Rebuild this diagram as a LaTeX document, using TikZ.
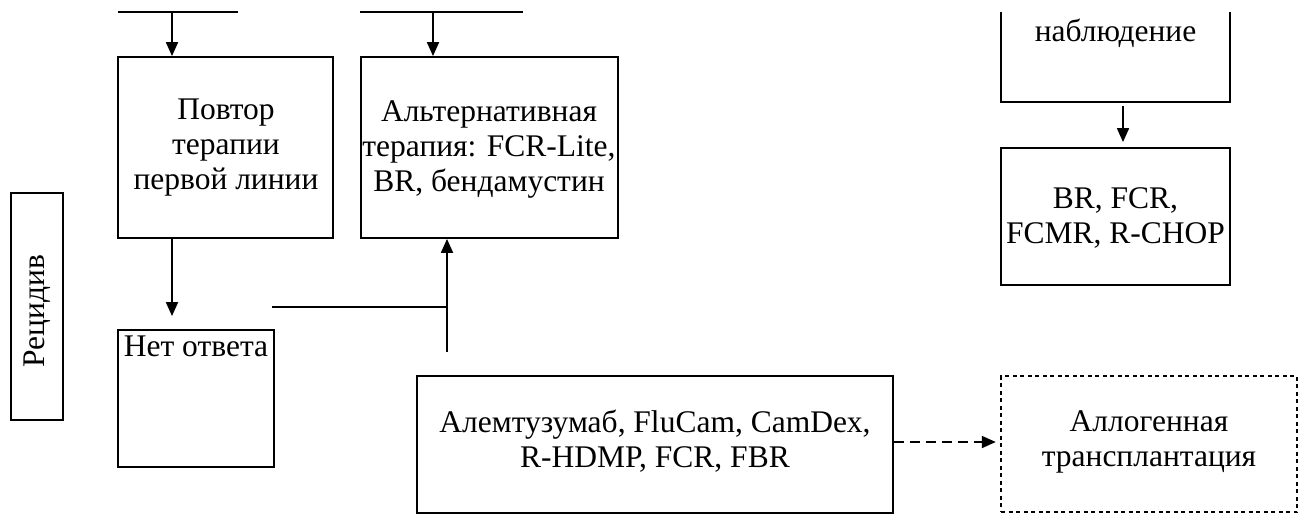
\documentclass[tikz,border=0pt]{standalone}
\usepackage{fontspec}
\setmainfont{Liberation Serif}
\usetikzlibrary{arrows.meta}
\begin{document}
\begin{tikzpicture}[x=1pt,y=-1pt,
  font=\fontsize{31.5}{35}\selectfont,
  box/.style={draw,line width=1.8pt,rectangle,inner sep=0pt,align=center},
  dbox/.style={draw,line width=2.4pt,rectangle,inner sep=0pt,align=center,dash pattern=on 4pt off 3.5pt},
  arr/.style={line width=1.8pt,-{Triangle[length=14pt,width=12pt]}},
  ln/.style={line width=1.8pt},
  txt/.style={inner sep=0pt,align=center}]
\useasboundingbox (0,0) rectangle (1304,515);
% boxes
\node[box,minimum width=215pt,minimum height=181pt] (povtor) at (225.5,147.5) {};
\node[txt] (povtortxt) at (226,148) {Повтор\\терапии\\первой линии};
\node[box,minimum width=257pt,minimum height=181pt] (alt) at (489.5,147.5) {};
\node[txt] (alttxt) at (489,149) {Альтернативная\\терапия: FCR-Lite,\\BR, бендамустин};
\node[box,minimum width=156pt,minimum height=137pt] (net) at (196,398.5) {};
\node[txt,anchor=north] (nettxt) at (196,336) {Нет ответа};
\node[box,minimum width=52pt,minimum height=227pt] (rec) at (37,306.5) {};
\node[txt,rotate=90] (rectxt) at (37,311) {Рецидив};
\node[box,minimum width=476pt,minimum height=137pt] (alem) at (655,444.5) {};
\node[txt] (alemtxt) at (655,441) {Алемтузумаб, FluCam, CamDex,\\R-HDMP, FCR, FBR};
\node[dbox,minimum width=296pt,minimum height=136pt] (allo) at (1149,444) {};
\node[txt] (allotxt) at (1149,442) {Аллогенная\\трансплантация};
\node[box,minimum width=229pt,minimum height=137pt] (br) at (1115.5,216.5) {};
\node[txt] (brtxt) at (1115.5,218) {BR, FCR,\\FCMR, R-CHOP};
% partial box "наблюдение"
\coordinate (nabTL) at (1001,12);
\coordinate (nabBL) at (1001,102);
\coordinate (nabBR) at (1230,102);
\coordinate (nabTR) at (1230,12);
\draw[ln] (nabTL) -- (nabBL) -- (nabBR) -- (nabTR);
\node[txt] (nab) at (1115.5,33) {наблюдение};
\coordinate (nabS) at (1123,102);
% top lines
\coordinate (t1a) at (118,12);
\coordinate (t1b) at (238,12);
\coordinate (t2a) at (360,12);
\coordinate (t2b) at (523,12);
\draw[ln] (t1a) -- (t1b);
\draw[ln] (t2a) -- (t2b);
\coordinate (t1s) at (172,12);
\coordinate (t2s) at (433,12);
\draw[arr] (t1s) -- (t1s |- povtor.north);
\draw[arr] (t2s) -- (t2s |- alt.north);
% povtor -> net
\coordinate (p1) at (172,238);
\draw[arr,shorten >=13pt] (p1) -- (p1 |- net.north);
% horizontal + vertical to alt
\coordinate (h1) at (272,307);
\coordinate (h2) at (447,307);
\coordinate (v1) at (447,352);
\draw[ln] (h1) -- (h2);
\draw[arr] (v1) -- (v1 |- alt.south);
% nab -> br
\draw[arr,shorten <=4pt,shorten >=5pt] (nabS) -- (nabS |- br.north);
% alem -> allo dashed
\draw[arr,dash pattern=on 10pt off 6pt,shorten >=4pt] (alem.east |- 0,442) -- (allo.west |- 0,442);
\end{tikzpicture}
\end{document}
